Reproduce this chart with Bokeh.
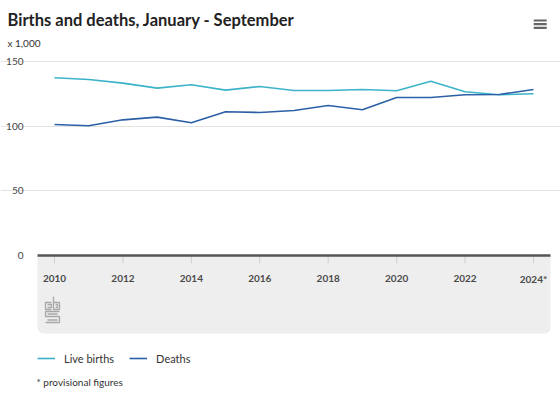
from bokeh.plotting import figure
from bokeh.models import Range1d, FixedTicker, Label, Legend, LegendItem, Grid
from bokeh.embed import file_html
from bokeh.resources import INLINE

# ---------------- data ----------------
years = list(range(2010, 2025))
live_births = [137.4, 136.1, 133.3, 129.4, 132.0, 127.9, 130.7, 127.6, 127.6, 128.4,
               127.4, 134.8, 126.6, 124.3, 125.1]
deaths = [101.3, 100.3, 104.9, 107.0, 102.6, 111.1, 110.6, 112.1, 116.0, 112.7,
          122.2, 122.2, 124.3, 124.5, 128.4]
x_ticks = [2010, 2012, 2014, 2016, 2018, 2020, 2022, 2024]
x_tick_labels = ["2010", "2012", "2014", "2016", "2018", "2020", "2022", "2024*"]
y_ticks = [0, 50, 100, 150]
y_tick_labels = ["0", "50", "100", "150"]
series_names = ["Live births", "Deaths"]
title = "Births and deaths, January - September"
unit = "x 1,000"
footnote = "* provisional figures"

# ---------------- style / layout ----------------
FONT = "Lato"
C_BIRTH = "#3db3c9"
C_DEATH = "#2c60a6"
GRAY_BAND = "#eeeeee"
W, H = 560, 393
# pixel anchors (canvas pixels from the top-left)
PX_FIRST, PX_LAST = 54, 533      # x pixel of first / last year
PY_ZERO, PX_PER_UNIT = 255, 1.2933
PLOT_L, PLOT_R = 37, 550         # plotting area left / right
BAND_B = 333                     # bottom of gray band

px_per_year = (PX_LAST - PX_FIRST) / (years[-1] - years[0])


def X(px):
    return years[0] + (px - PX_FIRST) / px_per_year


def Y(py):
    return (PY_ZERO - py) / PX_PER_UNIT


p = figure(width=W, height=H, output_backend="svg", toolbar_location=None,
           x_range=Range1d(X(0), X(W)), y_range=Range1d(Y(H), Y(0)),
           min_border=0, x_axis_location=None, y_axis_location=None)
p.outline_line_color = None
p.background_fill_color = "white"
p.border_fill_color = "white"
for g in p.grid:
    g.visible = False

# horizontal grid lines
p.add_layout(Grid(dimension=1, ticker=FixedTicker(ticks=y_ticks[1:]),
                  bounds=(X(PLOT_L), X(PLOT_R)), grid_line_color="#e3e3e3",
                  grid_line_width=1))

# gray band below the axis
p.quad(left=[X(PLOT_L)], right=[X(PLOT_R)], top=[0], bottom=[Y(BAND_B)],
       fill_color=GRAY_BAND, line_color=None, border_radius=(0, 0, 6, 6))

# tick marks + axis line
p.segment(x0=x_ticks, x1=x_ticks, y0=[0] * len(x_ticks), y1=[Y(PY_ZERO + 8)] * len(x_ticks),
          line_color="#cfcfcf", line_width=1)
p.segment(x0=[X(PLOT_L)], x1=[X(PLOT_R)], y0=[0], y1=[0], line_color="#555555",
          line_width=2.5)

# tick labels
p.text(x=x_ticks, y=[0] * len(x_ticks), text=x_tick_labels, y_offset=23,
       text_font={"value": FONT}, text_font_size="10px", text_font_style="bold",
       text_color="#4a4a4a", text_align="center", text_baseline="middle")
p.text(x=[X(PLOT_L)] * len(y_ticks), y=y_ticks, text=y_tick_labels, x_offset=-14,
       text_font={"value": FONT}, text_font_size="10px",
       text_color="#444444", text_align="right", text_baseline="middle")

# data lines
r1 = p.line(years, live_births, line_color=C_BIRTH, line_width=1.6)
r2 = p.line(years, deaths, line_color=C_DEATH, line_width=1.6)

# menu icon (three bars)
p.rect(x=[X(539.7)] * 3, y=[Y(20), Y(23.7), Y(27.4)], width=13 / px_per_year,
       height=2.2 / PX_PER_UNIT, fill_color="#666666", line_color=None)

# logo (simplified maze-like "cbs")
logo_px = [[51, 45, 45, 51], [47, 51, 51, 47], [53, 53, 59, 59, 53], [55, 57, 57, 55],
           [59, 45, 45, 59, 59, 45], [47, 57], [47, 57]]
logo_py = [[302, 302, 309, 309], [304, 304, 307, 307], [296, 309, 309, 302, 302],
           [304, 304, 307, 307], [311, 311, 316, 316, 322, 322], [313.5, 313.5],
           [319.5, 319.5]]
p.multi_line([[X(v) for v in xs] for xs in logo_px], [[Y(v) for v in ys] for ys in logo_py],
             line_color="#a8a8a8", line_width=1.3)

# legend
leg = Legend(items=[LegendItem(label=series_names[0], renderers=[r1]),
                    LegendItem(label=series_names[1], renderers=[r2])],
             orientation="horizontal", location=(PLOT_L, H - 368))
leg.margin = 0
leg.padding = 0
leg.border_line_color = None
leg.background_fill_alpha = 0
leg.glyph_width = 18
leg.glyph_height = 20
leg.label_height = 20
leg.label_standoff = 9
leg.spacing = 15
leg.label_text_font = FONT
leg.label_text_font_size = "11px"
leg.label_text_color = "#333333"
p.add_layout(leg, "center")


def lab(text, fx, fy, size, **kw):
    p.add_layout(Label(x=fx, y=H - fy, x_units="screen", y_units="screen", text=text,
                       text_font=FONT, text_font_size=size, text_baseline="middle", **kw))


lab(title, 7, 19, "16.5px", text_font_style="bold", text_color="#222222")
lab(unit, 7, 42, "10px", text_color="#333333")
lab(footnote, 36, 381, "10px", text_color="#333333")

open("out.html", "w").write(file_html(p, INLINE))
